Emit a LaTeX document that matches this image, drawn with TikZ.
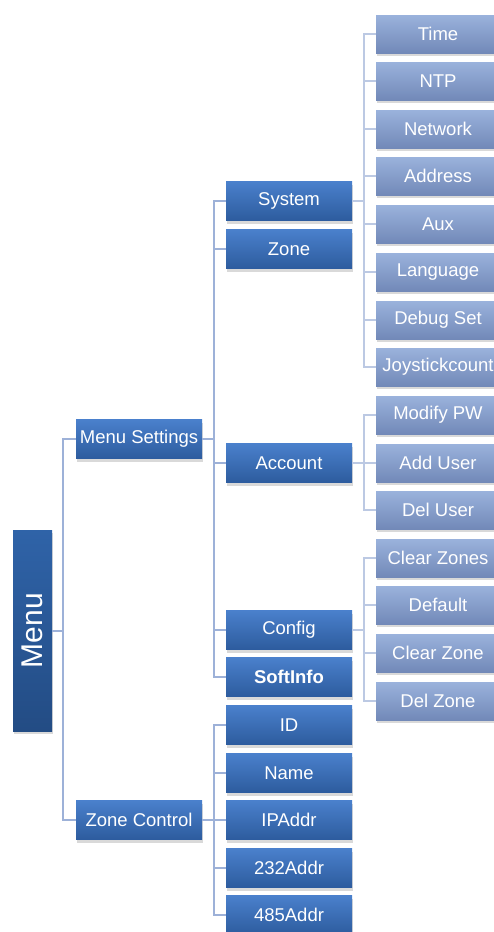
\documentclass[tikz,border=0pt]{standalone}
\usepackage{fontspec}
\setmainfont{Liberation Sans}
\usetikzlibrary{shadows}

\definecolor{boxtop}{HTML}{4A80CC}
\definecolor{boxbot}{HTML}{2D5C9E}
\definecolor{roottop}{HTML}{2F63A8}
\definecolor{rootbot}{HTML}{234C84}
\definecolor{leaftop}{HTML}{9AB2DC}
\definecolor{leafbot}{HTML}{7289B8}
\definecolor{linkblue}{HTML}{9DB1D8}
\definecolor{linklight}{HTML}{BCC9E3}

\tikzset{
  tile/.style={inner sep=0pt, text=white, font=\fontsize{18.5}{20}\selectfont,
    drop shadow={shadow xshift=1pt, shadow yshift=-3pt, opacity=0.3}},
  box/.style={tile, minimum width=126pt, minimum height=39pt, top color=boxtop, bottom color=boxbot},
  leaf/.style={tile, minimum width=124pt, minimum height=38pt, top color=leaftop, bottom color=leafbot},
  root/.style={tile, minimum width=39pt, minimum height=201pt, top color=roottop, bottom color=rootbot},
  link/.style={draw=linkblue, line width=2pt},
  twig/.style={draw=linklight, line width=2pt}
}

\begin{document}
\begin{tikzpicture}[x=1pt,y=-1pt]
  \useasboundingbox (0,0) rectangle (493,932);

  \node[root] (menu) at (32.5,630.5) {\rotatebox{90}{\fontsize{30}{32}\selectfont Menu}};

  \node[box] (ms) at (139,439) {Menu Settings};
  \node[box] (zc) at (139,820) {Zone Control};

  \node[box] (sys)  at (289,201) {System};
  \node[box] (zone) at (289,249) {Zone};
  \node[box] (acc)  at (289,463) {Account};
  \node[box] (cfg)  at (289,630) {Config};
  \node[box] (soft) at (289,677) {\bfseries SoftInfo};

  \node[box] (id)   at (289,725) {ID};
  \node[box] (name) at (289,773) {Name};
  \node[box] (ip)   at (289,820) {IPAddr};
  \node[box] (a232) at (289,868) {232Addr};
  \node[box] (a485) at (289,915) {485Addr};

  \node[leaf] (time) at (438,34)  {Time};
  \node[leaf] (ntp)  at (438,81)  {NTP};
  \node[leaf] (net)  at (438,129) {Network};
  \node[leaf] (addr) at (438,176) {Address};
  \node[leaf] (aux)  at (438,224) {Aux};
  \node[leaf] (lang) at (438,272) {Language};
  \node[leaf] (dbg)  at (438,320) {Debug Set};
  \node[leaf] (joy)  at (438,367) {Joystickcount};

  \node[leaf] (mpw)  at (438,415) {Modify PW};
  \node[leaf] (add)  at (438,463) {Add User};
  \node[leaf] (del)  at (438,510) {Del User};

  \node[leaf] (clrs) at (438,558) {Clear Zones};
  \node[leaf] (dflt) at (438,605) {Default};
  \node[leaf] (clr)  at (438,653) {Clear Zone};
  \node[leaf] (delz) at (438,701) {Del Zone};

  \foreach \c in {ms,zc}
    \draw[link] (menu.east) -| ([xshift=-13pt]\c.west) -- (\c.west);
  \foreach \c in {sys,zone,acc,cfg,soft}
    \draw[link] (ms.east) -| ([xshift=-12pt]\c.west) -- (\c.west);
  \foreach \c in {id,name,ip,a232,a485}
    \draw[link] (zc.east) -| ([xshift=-12pt]\c.west) -- (\c.west);
  \foreach \c in {time,ntp,net,addr,aux,lang,dbg,joy}
    \draw[twig] (sys.east) -| ([xshift=-12pt]\c.west) -- (\c.west);
  \foreach \c in {mpw,add,del}
    \draw[twig] (acc.east) -| ([xshift=-12pt]\c.west) -- (\c.west);
  \foreach \c in {clrs,dflt,clr,delz}
    \draw[twig] (cfg.east) -| ([xshift=-12pt]\c.west) -- (\c.west);
\end{tikzpicture}
\end{document}
